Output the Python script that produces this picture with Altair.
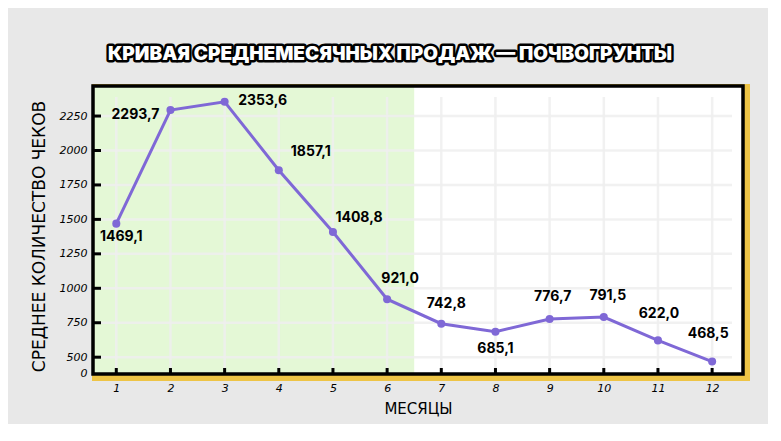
import altair as alt
import pandas as pd

# ---- data ----
months = [1, 2, 3, 4, 5, 6, 7, 8, 9, 10, 11, 12]
avg_checks = [1469.1, 2293.7, 2353.6, 1857.1, 1408.8, 921.0, 742.8, 685.1, 776.7, 791.5, 622.0, 468.5]
y_tick_values = [500, 750, 1000, 1250, 1500, 1750, 2000, 2250]
zero_label_pos = 385
shade_range = [0.5, 6.5]
title_text = "КРИВАЯ СРЕДНЕМЕСЯЧНЫХ ПРОДАЖ — ПОЧВОГРУНТЫ"
x_title = "МЕСЯЦЫ"
y_title = "СРЕДНЕЕ КОЛИЧЕСТВО ЧЕКОВ"

# label placement offsets (dx, dy) in pixels
label_offsets = [(5, 13), (-35, 5), (38, -1), (32, -18), (26, -14), (13, -20),
                 (5, -20), (0, 17), (3, -22), (4, -21), (1, -26), (-4, -28)]

W, H = 650, 288
LINE = "#7f68d6"
GRID = "#eeeeee"
YELLOW = "#eec446"
GREEN = "#e4f8d6"

df = pd.DataFrame({"month": months, "value": avg_checks})
one = alt.Data(values=[{"k": 1}])
xs = alt.Scale(domain=[0.57, 12.57], nice=False, zero=False)
ys = alt.Scale(domain=[378, 2468], nice=False, zero=False)

hand_font = "DejaVu Sans"

x_axis = alt.Axis(values=months, title=x_title, ticks=False, domain=False, grid=False,
                  format="d", labelFont=hand_font, labelFontSize=11, labelFontStyle="italic",
                  labelColor="black", labelPadding=8, titleFont=hand_font, titleFontSize=15,
                  titleFontWeight="normal", titleColor="black", titlePadding=8)
y_axis = alt.Axis(values=[zero_label_pos] + y_tick_values, title=y_title, ticks=False,
                  domain=False, grid=False, format="d",
                  labelExpr="datum.value < 450 ? '0' : datum.label",
                  labelFont=hand_font, labelFontSize=11, labelFontStyle="italic",
                  labelColor="black", labelPadding=6, labelOverlap=False,
                  titleFont=hand_font, titleFontSize=17, titleFontWeight="normal",
                  titleColor="black", titlePadding=11, titleY=150)


def X(field):
    return alt.X(field, scale=xs, axis=x_axis)


def Y(field):
    return alt.Y(field, scale=ys, axis=y_axis)


yellow = alt.Chart(one).mark_rect(color=YELLOW).encode(
    x=alt.value(-1), x2=alt.value(W + 7), y=alt.value(-2), y2=alt.value(H + 7))
white = alt.Chart(one).mark_rect(color="white").encode(
    x=alt.value(0), x2=alt.value(W), y=alt.value(0), y2=alt.value(H))
shade = alt.Chart(pd.DataFrame({"month": [shade_range[0]], "e": [shade_range[1]]})).mark_rect(
    color=GREEN, clip=True).encode(
    x=X("month:Q"), x2="e:Q", y=alt.value(0), y2=alt.value(H))

vgrid = alt.Chart(pd.DataFrame({"month": months})).mark_rule(color=GRID, strokeWidth=2.5, opacity=0.85).encode(
    x=X("month:Q"), y=alt.value(11), y2=alt.value(H))
hgrid = alt.Chart(pd.DataFrame({"value": y_tick_values})).mark_rule(color=GRID, strokeWidth=2.5, opacity=0.85).encode(
    y=Y("value:Q"), x=alt.value(0), x2=alt.value(W - 11))

yticks = alt.Chart(pd.DataFrame({"value": y_tick_values})).mark_rule(color="black", strokeWidth=3).encode(
    y=Y("value:Q"), x=alt.value(0), x2=alt.value(8))
xticks = alt.Chart(pd.DataFrame({"month": months})).mark_rule(color="black", strokeWidth=3).encode(
    x=X("month:Q"), y=alt.value(H), y2=alt.value(H - 6))

base = alt.Chart(df).encode(x=X("month:Q"), y=Y("value:Q"))
line = base.mark_line(color=LINE, strokeWidth=3)
points = base.mark_circle(color=LINE, size=65, opacity=1)

border = alt.Chart(one).mark_rect(fillOpacity=0, stroke="black", strokeWidth=3.5).encode(
    x=alt.value(0), x2=alt.value(W), y=alt.value(0), y2=alt.value(H))

labels = []
for m, (dx, dy) in zip(months, label_offsets):
    labels.append(
        base.transform_filter(alt.datum.month == m).transform_calculate(
            lbl="replace(format(datum.value, '.1f'), '.', ',')"
        ).mark_text(dx=dx, dy=dy, font="Inter", fontWeight=700, fontSize=14,
                    color="black", align="center", baseline="middle").encode(
            text="lbl:N"))

title_shadow = alt.Chart(one).mark_text(
    text=title_text, font="Inter", fontWeight=900, fontSize=19, color="black",
    stroke="black", strokeWidth=5, strokeJoin="round", align="center", baseline="middle").encode(
    x=alt.value(297), y=alt.value(-32))
title_front = alt.Chart(one).mark_text(
    text=title_text, font="Inter", fontWeight=900, fontSize=19, color="white",
    align="center", baseline="middle").encode(
    x=alt.value(297), y=alt.value(-32))

chart = alt.layer(
    yellow, white, shade, vgrid, hgrid, line, points, yticks, xticks, border,
    *labels, title_shadow, title_front
).properties(
    width=W, height=H,
    autosize=alt.AutoSizeParams(type="none"),
    padding={"left": 85, "top": 78, "right": 25, "bottom": 50},
    background="#e8e8e8",
).configure_view(stroke=None)

chart.save("out.html", embed_options={"renderer": "svg", "actions": False})
